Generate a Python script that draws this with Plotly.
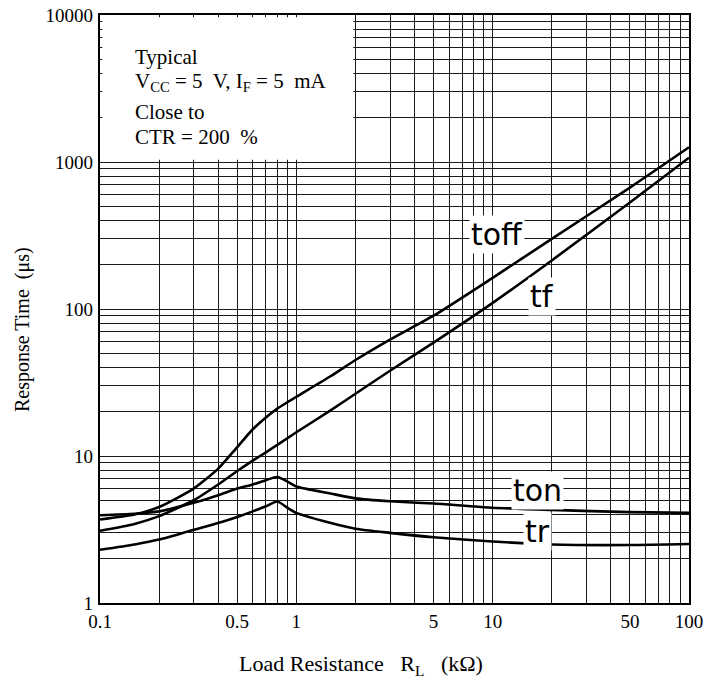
import plotly.graph_objects as go

# ---------------- data ----------------
rl = [0.1, 0.15, 0.2, 0.3, 0.4, 0.5, 0.6, 0.7, 0.8, 0.9, 1, 1.5, 2, 3, 5, 10, 20, 50, 100]
t_off = [3.7, 4.0, 4.5, 6.0, 8.2, 11.5, 15.2, 18.3, 21.0, 23.2, 25.3, 35, 45, 62, 90, 163, 300, 670, 1260]
t_f = [3.1, 3.45, 3.9, 5.0, 6.4, 7.9, 9.3, 10.6, 11.9, 13.2, 14.5, 20.5, 26.5, 38, 59, 110, 214, 530, 1070]
t_on = [3.95, 4.05, 4.2, 4.8, 5.4, 6.0, 6.4, 6.85, 7.2, 6.7, 6.2, 5.55, 5.15, 4.92, 4.75, 4.45, 4.3, 4.15, 4.1]
t_r = [2.3, 2.5, 2.7, 3.15, 3.5, 3.85, 4.2, 4.55, 4.9, 4.45, 4.1, 3.5, 3.2, 3.0, 2.8, 2.62, 2.5, 2.48, 2.52]

x_tick_vals = [0.1, 0.5, 1, 5, 10, 50, 100]
x_tick_text = ["0.1", "0.5", "1", "5", "10", "50", "100"]
y_tick_vals = [1, 10, 100, 1000, 10000]
y_tick_text = ["1", "10", "100", "1000", "10000"]

series_names = ["toff", "tf", "ton", "tr"]


# grid values (every 1..9 x decade)
def decade_grid(lo_exp, hi_exp):
    vals = []
    for e in range(lo_exp, hi_exp):
        for m in range(1, 10):
            vals.append(round(m * 10 ** e, 6))
    vals.append(round(10 ** hi_exp, 6))
    return vals


x_minor = [v for v in decade_grid(-1, 2) if v not in x_tick_vals]
y_minor = [v for v in decade_grid(0, 4) if v not in y_tick_vals]

SERIF = "Liberation Serif"
SANS = "DejaVu Sans"
GRID = "#1a1a1a"

W, H = 705, 679
PL, PR, PT, PB = 100, 689, 15, 603

fig = go.Figure()
for name, ys in zip(series_names, [t_off, t_f, t_on, t_r]):
    fig.add_trace(go.Scatter(
        x=rl, y=ys, mode="lines", name=name,
        line=dict(color="black", width=2.6, shape="spline", smoothing=0.6),
        showlegend=False, hoverinfo="skip"))

axis_common = dict(
    type="log", showgrid=True, gridcolor=GRID, gridwidth=1.2,
    showline=True, linecolor="black", linewidth=2.2, mirror=True,
    ticks="", zeroline=False, automargin=False, ticklabeloverflow="allow",
    tickfont=dict(family=SERIF, size=19, color="black"),
)

fig.update_xaxes(
    **axis_common,
    range=[-1, 2],
    tickmode="array", tickvals=x_tick_vals, ticktext=x_tick_text,
    minor=dict(tickmode="array", tickvals=x_minor, showgrid=True,
               gridcolor=GRID, gridwidth=1.2, ticks=""),
)
fig.update_yaxes(
    **axis_common,
    range=[0, 4],
    tickmode="array", tickvals=y_tick_vals, ticktext=y_tick_text,
    minor=dict(tickmode="array", tickvals=y_minor, showgrid=True,
               gridcolor=GRID, gridwidth=1.2, ticks=""),
    ticklabelstandoff=1,
)

# white conditions box in the upper-left of the plot
fig.add_shape(type="rect", xref="x domain", yref="y domain",
              x0=0.004, x1=0.43, y0=0.754, y1=0.996,
              fillcolor="white", line=dict(width=0), layer="above")


def px(xp):
    return (xp - PL) / (PR - PL)


def py(yp):
    return (PB - yp) / (PB - PT)


box_lines = ["Typical",
             "V<sub>CC</sub> = 5  V, I<sub>F</sub> = 5  mA",
             "Close to",
             "CTR = 200  %"]
box_y = [57, 82, 112, 137]
for t, yy in zip(box_lines, box_y):
    fig.add_annotation(xref="paper", yref="paper", x=px(133), y=py(yy),
                       text=t, showarrow=False, xanchor="left", yanchor="middle",
                       font=dict(family=SERIF, size=21, color="black"))

# curve labels with white background
label_pos = {"toff": (497, 234), "tf": (542, 296), "ton": (537, 490), "tr": (537, 531)}
for name in series_names:
    lx, ly = label_pos[name]
    fig.add_annotation(xref="paper", yref="paper", x=px(lx), y=py(ly),
                       text=name, showarrow=False, xanchor="center", yanchor="middle",
                       bgcolor="white", borderpad=1,
                       font=dict(family=SANS, size=30, color="black"))

# axis titles
fig.add_annotation(xref="paper", yref="paper", x=px(361), y=py(665),
                   text="Load Resistance   R<sub>L</sub>   (kΩ)", showarrow=False,
                   xanchor="center", yanchor="middle",
                   font=dict(family=SERIF, size=22, color="black"))
fig.add_annotation(xref="paper", yref="paper", x=px(22), y=py(330),
                   text="Response Time  (μs)", showarrow=False, textangle=-90,
                   xanchor="center", yanchor="middle",
                   font=dict(family=SERIF, size=20, color="black"))

fig.update_layout(
    width=W, height=H,
    margin=dict(l=PL, r=W - PR, t=PT, b=H - PB),
    paper_bgcolor="white", plot_bgcolor="white",
    showlegend=False,
)

fig.write_html(
    "out.html",
    config={"displayModeBar": False},
    post_script="document.body.style.margin='0';document.body.style.overflow='hidden';",
)
